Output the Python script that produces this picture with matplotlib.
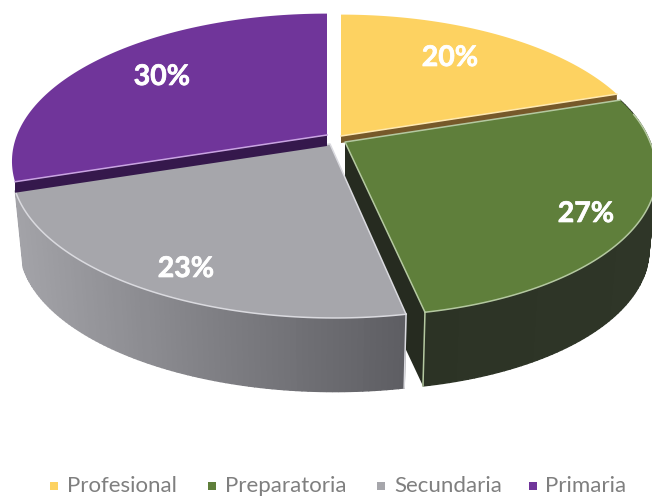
import numpy as np
import matplotlib
matplotlib.use('Agg')
import matplotlib.pyplot as plt
import matplotlib.patheffects as pe
from matplotlib.patches import Polygon, Rectangle
from matplotlib.colors import to_rgb

# data
categories = ['Profesional', 'Preparatoria', 'Secundaria', 'Primaria']
values = [20, 27, 23, 30]

# styles / layout (pixels of the 652x497 picture)
top_colors = ['#FDD261', '#5F7F3B', '#A6A6AB', '#70359A']
wall_left = ['#7A6030', '#2C3325', '#A3A3A8', '#4A2A66']
wall_right = ['#7A6030', '#2F3628', '#5E5E63', '#4A2A66']
cut_colors = ['#76592A', '#262B20', '#66666B', '#35184C']
rim_colors = ['#FFE9B0', '#B4C8A0', '#DADADF', '#C9A4E2']
apexes = [(341, 136), (345, 142), (330, 144), (327, 135)]
radii_x = [306, 305, 314, 310]
shears = [0, 9, 4, 0]
back_cut_depth = [7, 0, 0, 11]
label_pos = [(450, 58), (586, 214), (186, 269), (162, 77)]
legend_marker_x = [54, 212, 381, 533]
legend_text_x = [67, 225, 394, 545]
RY, PERSP = 143, 0.178
DEPTH, BOTTOM_SCALE = 78, 0.975


def rim(i, t, scale=1.0, dy=0.0):
    """point on slice i's rim for a pie angle t, clockwise from the top"""
    apex = apexes[i]
    w = 1 / (1 + PERSP * np.cos(t))
    x = apex[0] + scale * (radii_x[i] * np.sin(t) + shears[i] * np.maximum(0, -np.cos(t))) * w
    y = apex[1] + dy - scale * RY * np.cos(t) * w
    return np.column_stack([x, y])


fig = plt.figure(figsize=(6.52, 4.97), dpi=100, facecolor='white')
ax = fig.add_axes([0, 0, 1, 1])
ax.set_xlim(0, 652)
ax.set_ylim(497, 0)
ax.axis('off')

edges = np.radians(np.cumsum([0] + values) * 3.6)
spans = list(zip(edges[:-1], edges[1:]))

for i in [0, 3, 1, 2]:
    start, end = spans[i]
    apex = apexes[i]
    ts = np.linspace(start, end, 90)
    top = rim(i, ts)
    z = i + 1

    if i in (0, 3):
        # back slices: only a thin strip of the cut face shows
        idx = -1 if i == 0 else 0
        corner = top[idx]
        d = back_cut_depth[i]
        ax.add_patch(Polygon([apex, corner, corner + [0, d], (apex[0], apex[1] + d)],
                             closed=True, fc=cut_colors[i], ec='none', zorder=z))
    else:
        bot = rim(i, ts, BOTTOM_SCALE, DEPTH)
        if i == 1:
            ax.add_patch(Polygon([apex, top[-1], bot[-1], (apex[0], apex[1] + DEPTH)],
                                 closed=True, fc=cut_colors[i], ec='none', zorder=z))
        # outer wall, shaded from left to right
        c0, c1 = np.array(to_rgb(wall_left[i])), np.array(to_rgb(wall_right[i]))
        x_lo, x_hi = top[:, 0].min(), top[:, 0].max()
        for j in range(len(ts) - 1):
            f = (top[j, 0] - x_lo) / max(x_hi - x_lo, 1)
            col = c0 + (c1 - c0) * f
            ax.add_patch(Polygon([top[j], top[j + 1], bot[j + 1], bot[j]], closed=True,
                                 fc=col, ec=col, lw=1.0, zorder=z))

    # top face
    ax.add_patch(Polygon(np.vstack([[apex], top]), closed=True,
                         fc=top_colors[i], ec='none', zorder=z + 0.5))

    # light edges
    line = dict(color=rim_colors[i], lw=1.1, zorder=z + 0.6)
    if i == 0:
        ax.plot([apex[0], top[-1, 0]], [apex[1], top[-1, 1]], **line)
    elif i == 3:
        ax.plot([apex[0], top[0, 0]], [apex[1], top[0, 1]], **line)
    else:
        front = top[np.cos(ts) < 0.2]
        ax.plot(front[:, 0], front[:, 1], **line)
        ax.plot([top[0, 0], apex[0], top[-1, 0]], [top[0, 1], apex[1], top[-1, 1]], **line)
        k = -1 if i == 1 else 0
        ax.plot([top[k, 0], bot[k, 0]], [top[k, 1], bot[k, 1]], **line)

    txt = ax.text(label_pos[i][0], label_pos[i][1], f'{values[i]}%', color='white',
                  family='Lato', weight='bold', fontsize=20.5, ha='center', va='center', zorder=10)
    txt.set_path_effects([pe.withStroke(linewidth=0.5, foreground='white')])

# legend
for i, name in enumerate(categories):
    ax.add_patch(Rectangle((legend_marker_x[i] - 4, 482), 8, 8, fc=top_colors[i],
                           ec='none', zorder=10))
    ax.text(legend_text_x[i], 486, name, color='#7F7F7F', family='Lato', fontsize=16,
            ha='left', va='center', zorder=10)

fig.savefig('out.png', dpi=100)
